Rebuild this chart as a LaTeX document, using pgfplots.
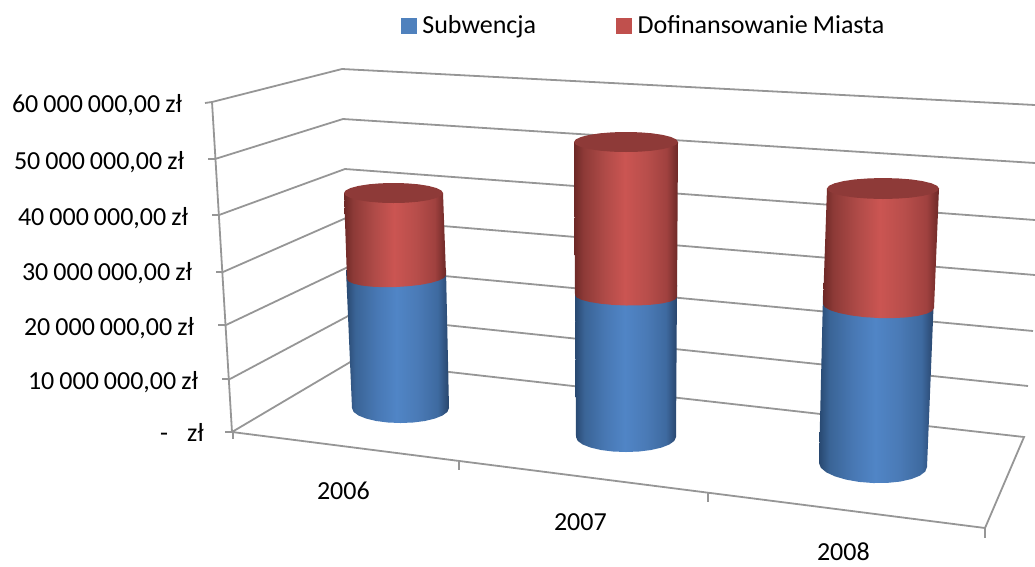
\documentclass[border=0pt]{standalone}
\usepackage{fontspec}
\setmainfont[WordSpace=0.85]{Carlito}
\usepackage{pgfplots}
\pgfplotsset{compat=1.18}
\definecolor{gridc}{HTML}{969696}
\definecolor{legblue}{HTML}{4F81BD}
\definecolor{legred}{HTML}{C0504D}
\definecolor{topred}{HTML}{8E3A38}
\definecolor{ra}{RGB}{109,40,38}
\definecolor{rb}{RGB}{141,58,55}
\definecolor{rc}{RGB}{176,75,72}
\definecolor{rd}{RGB}{203,85,82}
\definecolor{re}{RGB}{184,78,75}
\definecolor{rf}{RGB}{160,65,63}
\definecolor{rg}{RGB}{112,43,41}
\definecolor{ba}{RGB}{40,72,112}
\definecolor{bb}{RGB}{58,100,150}
\definecolor{bc}{RGB}{72,120,180}
\definecolor{bd}{RGB}{80,133,198}
\definecolor{be}{RGB}{74,122,182}
\definecolor{bf}{RGB}{62,106,160}
\definecolor{bg}{RGB}{42,72,112}
\pgfdeclarehorizontalshading{redcyl}{100bp}{color(0bp)=(ra);color(25bp)=(ra);color(29.5bp)=(rb);color(40bp)=(rc);color(49.5bp)=(rd);color(60bp)=(re);color(69.5bp)=(rf);color(74.5bp)=(rg);color(100bp)=(rg)}
\pgfdeclarehorizontalshading{bluecyl}{100bp}{color(0bp)=(ba);color(25bp)=(ba);color(29.5bp)=(bb);color(40bp)=(bc);color(49.5bp)=(bd);color(60bp)=(be);color(69.5bp)=(bf);color(74.5bp)=(bg);color(100bp)=(bg)}
\begin{document}
\begin{tikzpicture}
\begin{axis}[
  scale only axis, width=1035pt, height=566pt,
  xmin=0, xmax=1035, ymin=0, ymax=566, y dir=reverse,
  hide axis, clip=true,
  legend columns=2,
  legend style={at={(axis cs:401,25.5)}, anchor=west, draw=none, fill=none,
    inner sep=0pt, outer sep=0pt, font=\fontsize{26}{30}\selectfont,
    /tikz/every even column/.style={column sep=78pt}},
  legend cell align=left,
  legend image code/.code={\fill[#1] (0pt,-7.5pt) rectangle (15pt,7.5pt);},
  grid line/.style={draw=gridc, line width=1.8pt, forget plot, no marks},
  tick line/.style={draw=gridc, line width=1.8pt, forget plot, no marks},
]
\path (axis cs:0,0) rectangle (axis cs:1035,566);
\addlegendimage{legblue,fill=legblue}
\addlegendentry{\hspace{4pt}Subwencja}
\addlegendimage{legred,fill=legred}
\addlegendentry{\hspace{4pt}Dofinansowanie Miasta}

% left wall, back wall, one polyline per level (60 ... 0 mln zl)
\addplot[grid line] coordinates {(212,102) (342,69) (1035,105)};
\addplot[grid line] coordinates {(215,159) (343,119) (1035,163)};
\addplot[grid line] coordinates {(219,215) (345,169) (1035,220)};
\addplot[grid line] coordinates {(223,272) (346,218) (1035,275)};
\addplot[grid line] coordinates {(226,325) (348,267) (1033,331)};
\addplot[grid line] coordinates {(230,379) (350,315) (1028,386)};
\addplot[grid line] coordinates {(232,432) (352,361) (1024,437) (985,528) (232,432)};
% value axis and ticks
\addplot[tick line] coordinates {(212,102) (232,432)};
\addplot[tick line] coordinates {(205,103) (212,102)};
\addplot[tick line] coordinates {(208,159) (215,159)};
\addplot[tick line] coordinates {(212,215) (219,215)};
\addplot[tick line] coordinates {(216,272) (223,272)};
\addplot[tick line] coordinates {(218,325) (226,325)};
\addplot[tick line] coordinates {(222,379) (230,379)};
\addplot[tick line] coordinates {(225,432) (232,432)};
% category ticks
\addplot[tick line] coordinates {(233,432) (233,439)};
\addplot[tick line] coordinates {(459,460) (459,470)};
\addplot[tick line] coordinates {(708,493) (708,502)};
\addplot[tick line] coordinates {(985,528) (985,538)};

% 2006
\addplot[forget plot, draw=none, shading=bluecyl] coordinates {(352,408) (353.6,411.9) (358.5,415.5) (366.2,418.6) (376.2,421) (387.9,422.5) (400.5,423) (413.1,422.5) (424.8,421) (434.8,418.6) (442.5,415.5) (447.4,411.9) (449,408) (446,270) (346,270)} -- cycle;
\addplot[forget plot, draw=none, shading=redcyl] coordinates {(347,279) (348.7,281.5) (353.6,283.7) (361.5,285.5) (371.8,286.7) (383.7,287.2) (396.5,287) (409.3,286.1) (421.3,284.7) (431.5,282.7) (439.4,280.3) (444.3,277.7) (446,275) (443,193) (344,193)} -- cycle;
\addplot[forget plot, draw=none, fill=topred] coordinates {(344,193) (345.7,195.6) (350.6,198) (358.5,200.1) (368.8,201.7) (380.7,202.7) (393.5,203) (406.3,202.7) (418.3,201.7) (428.5,200.1) (436.4,198) (441.3,195.6) (443,193) (441.3,190.4) (436.4,188) (428.5,185.9) (418.3,184.3) (406.3,183.3) (393.5,183) (380.7,183.3) (368.8,184.3) (358.5,185.9) (350.6,188) (345.7,190.4)} -- cycle;
% 2007
\addplot[forget plot, draw=none, shading=bluecyl] coordinates {(576,437) (577.7,440.9) (582.7,444.5) (590.7,447.6) (601,450) (613,451.5) (626,452) (639,451.5) (651,450) (661.4,447.6) (669.3,444.5) (674.3,440.9) (676,437) (677,285) (575,285)} -- cycle;
\addplot[forget plot, draw=none, shading=redcyl] coordinates {(575,295) (576.7,297.5) (581.8,299.9) (589.9,302) (600.5,303.7) (612.8,304.9) (626,305.5) (639.2,305.4) (651.5,304.7) (662.1,303.4) (670.2,301.6) (675.3,299.4) (677,297) (678,142) (574,142)} -- cycle;
\addplot[forget plot, draw=none, fill=topred] coordinates {(574,142) (575.8,144.6) (581,147) (589.2,149.1) (600,150.7) (612.5,151.7) (626,152) (639.5,151.7) (652,150.7) (662.8,149.1) (671,147) (676.2,144.6) (678,142) (676.2,139.4) (671,137) (662.8,134.9) (652,133.3) (639.5,132.3) (626,132) (612.5,132.3) (600,133.3) (589.2,134.9) (581,137) (575.8,139.4)} -- cycle;
% 2008
\addplot[forget plot, draw=none, shading=bluecyl] coordinates {(819,463) (820.8,467.7) (826.2,472.3) (834.8,476.3) (846,479.6) (859,481.9) (873,483) (887,482.9) (900,481.6) (911.2,479.1) (919.8,475.7) (925.2,471.6) (927,467) (934,295) (823,295)} -- cycle;
\addplot[forget plot, draw=none, shading=redcyl] coordinates {(823,304) (824.9,307.2) (830.4,310.3) (839.3,313.1) (850.8,315.4) (864.1,317.1) (878.5,318) (892.9,318.1) (906.3,317.4) (917.7,315.9) (926.6,313.7) (932.1,311) (934,308) (939,188) (827,188)} -- cycle;
\addplot[forget plot, draw=none, fill=topred] coordinates {(827,188.5) (828.9,191.2) (834.5,193.8) (843.4,195.9) (855,197.6) (868.5,198.6) (883,199) (897.5,198.6) (911,197.6) (922.6,195.9) (931.5,193.8) (937.1,191.2) (939,188.5) (937.1,185.8) (931.5,183.3) (922.6,181.1) (911,179.4) (897.5,178.4) (883,178) (868.5,178.4) (855,179.4) (843.4,181.1) (834.5,183.3) (828.9,185.8)} -- cycle;

% value labels
\tikzset{lab/.style={font=\fontsize{26}{30}\selectfont, inner sep=0pt, outer sep=0pt, text=black}}
\node[lab, anchor=base east] at (axis cs:182,112) {60 000 000,00 zł};
\node[lab, anchor=base east] at (axis cs:184,169) {50 000 000,00 zł};
\node[lab, anchor=base east] at (axis cs:188,225) {40 000 000,00 zł};
\node[lab, anchor=base east] at (axis cs:192,280) {30 000 000,00 zł};
\node[lab, anchor=base east] at (axis cs:194,335) {20 000 000,00 zł};
\node[lab, anchor=base east] at (axis cs:198,389) {10 000 000,00 zł};
\node[lab, anchor=base west] at (axis cs:160,441) {-};
\node[lab, anchor=base west] at (axis cs:187,441) {zł};
\node[lab, anchor=base west] at (axis cs:317,499) {2006};
\node[lab, anchor=base west] at (axis cs:554,530) {2007};
\node[lab, anchor=base west] at (axis cs:817,560) {2008};
\end{axis}
\end{tikzpicture}
\end{document}
